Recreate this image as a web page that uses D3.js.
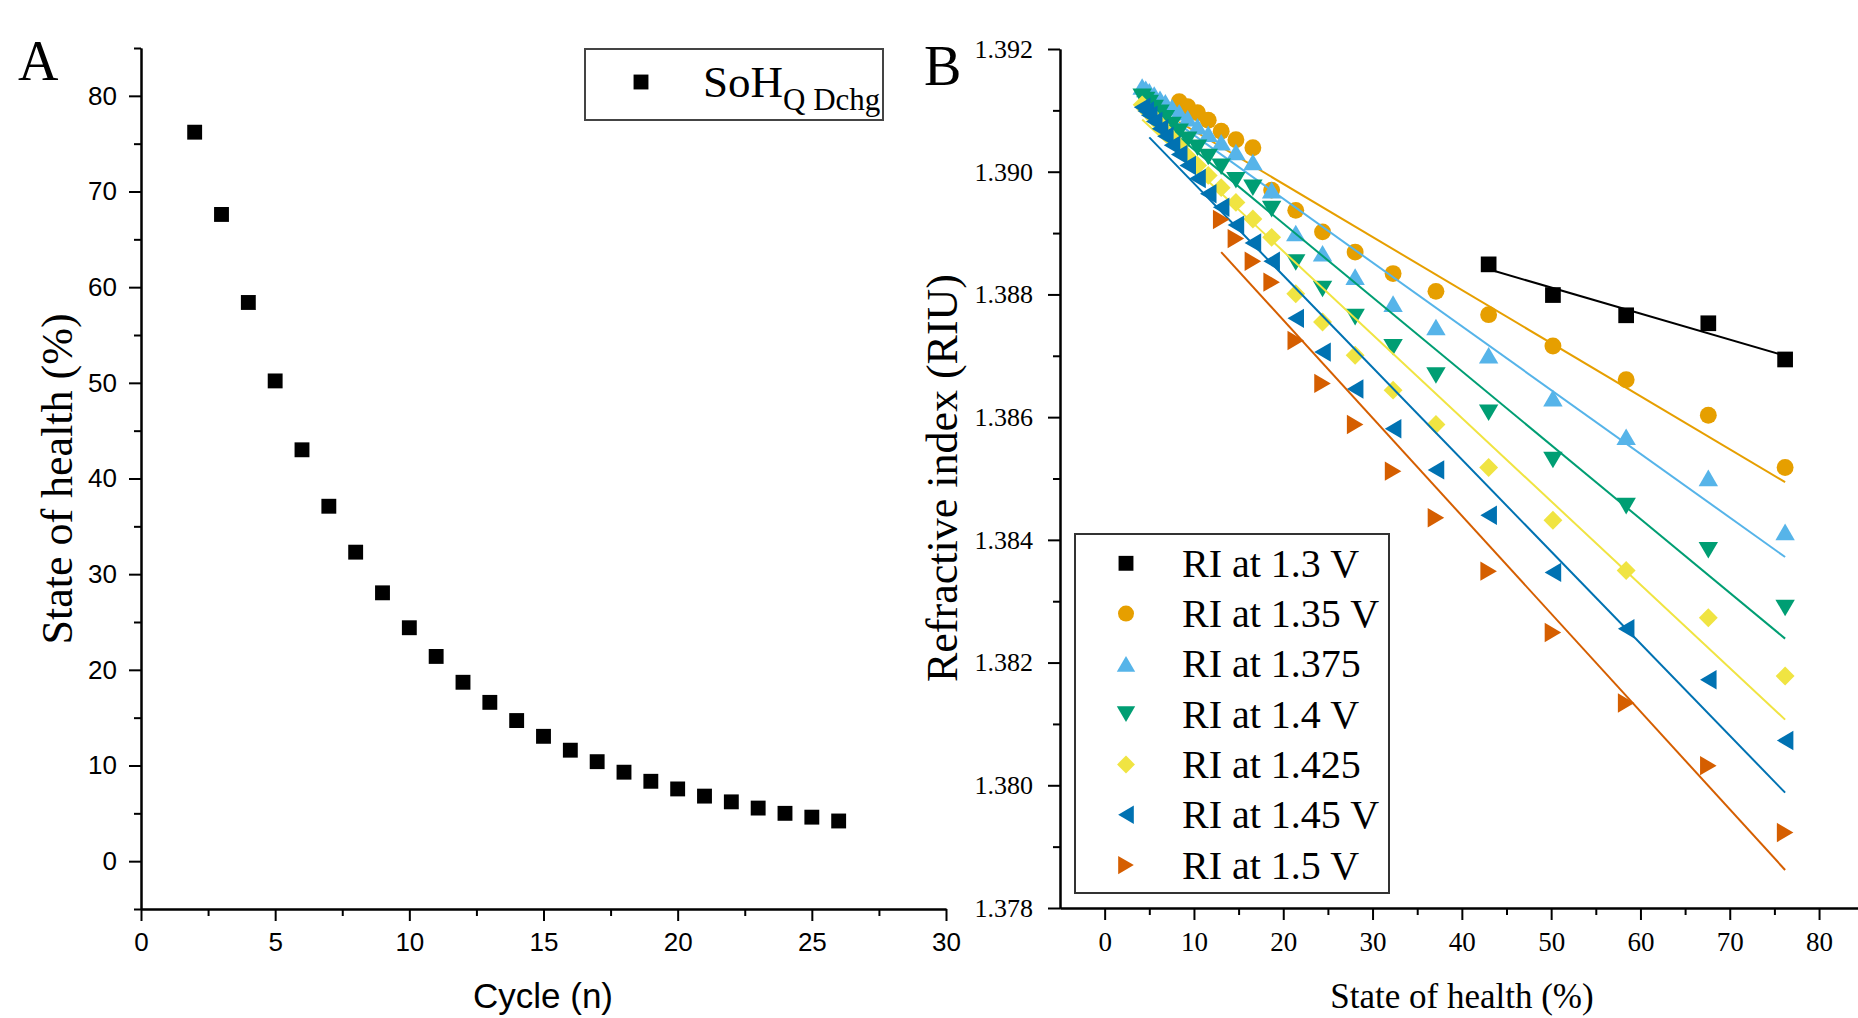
<!DOCTYPE html>
<html><head><meta charset="utf-8">
<script src="https://cdn.jsdelivr.net/npm/d3@7"></script>
<style>body{margin:0;background:#fff;} svg{display:block;}</style>
</head><body>
<svg id="c" width="1858" height="1018"></svg>
<script>
// ---------- Panel A data ----------
const cycles = [2,3,4,5,6,7,8,9,10,11,12,13,14,15,16,17,18,19,20,21,22,23,24,25,26];
const sohQ   = [76.2,67.6,58.4,50.2,43.0,37.1,32.3,28.05,24.4,21.4,18.7,16.6,14.7,13.05,11.6,10.4,9.3,8.35,7.55,6.8,6.2,5.55,5.0,4.6,4.2];
const xTicksA = [0,5,10,15,20,25,30];
const yTicksA = [0,10,20,30,40,50,60,70,80];

// ---------- Panel B data ----------
const sohB = [4.2,4.6,5.0,5.55,6.2,6.8,7.55,8.35,9.3,10.4,11.6,13.05,14.7,16.6,18.7,21.4,24.4,28.05,32.3,37.1,43.0,50.2,58.4,67.6,76.2];
const ri130  = [1.38849,1.38799,1.38766,1.38753,1.38694];
const ri135  = [1.39114,1.39106,1.39096,1.39084,1.39066,1.39052,1.39039,1.38970,1.38937,1.38902,1.38869,1.38834,1.38805,1.38767,1.38716,1.38661,1.38603,1.38518];
const ri1375 = [1.39139,1.39135,1.39131,1.39126,1.39119,1.39113,1.39105,1.39097,1.39087,1.39074,1.39062,1.39048,1.39032,1.39016,1.38970,1.38900,1.38867,1.38829,1.38785,1.38747,1.38701,1.38631,1.38568,1.38501,1.38413];
const ri140  = [1.39122,1.39117,1.39112,1.39104,1.39096,1.39087,1.39076,1.39065,1.39052,1.39039,1.39024,1.39008,1.38986,1.38974,1.38939,1.38852,1.38809,1.38763,1.38714,1.38668,1.38607,1.38530,1.38455,1.38383,1.38289];
const ri1425 = [1.39109,1.39102,1.39096,1.39087,1.39077,1.39066,1.39054,1.39041,1.39025,1.39010,1.38994,1.38974,1.38950,1.38923,1.38893,1.38801,1.38755,1.38701,1.38644,1.38588,1.38518,1.38432,1.38350,1.38273,1.38178];
const ri145  = [1.39105,1.39099,1.39092,1.39082,1.39070,1.39058,1.39043,1.39028,1.39010,1.38989,1.38964,1.38942,1.38913,1.38884,1.38854,1.38761,1.38706,1.38646,1.38581,1.38514,1.38440,1.38347,1.38255,1.38172,1.38073];
const ri150  = [1.38922,1.38891,1.38854,1.38820,1.38725,1.38655,1.38588,1.38512,1.38436,1.38349,1.38249,1.38134,1.38032,1.37923];
const seriesNames = ["RI at 1.3 V","RI at 1.35 V","RI at 1.375","RI at 1.4 V","RI at 1.425","RI at 1.45 V","RI at 1.5 V"];
const seriesColors = ["#000000","#E69F00","#56B4E9","#009E73","#F0E442","#0072B2","#D55E00"];
const seriesShapes = ["square","circle","up","down","diamond","left","right"];
// linear fit lines: start x, start y, end x, end y
const fitX0 = [43.0, 8.35, 4.2, 4.2, 4.2, 5.0, 13.05];
const fitY0 = [1.38841,1.39081,1.39120,1.39106,1.39085,1.39056,1.38869];
const fitX1 = [76.2,76.2,76.2,76.2,76.2,76.2,76.2];
const fitY1 = [1.38700,1.38494,1.38372,1.38239,1.38107,1.37988,1.37862];
const xTicksB = [0,10,20,30,40,50,60,70,80];
const yTicksB = [1.378,1.380,1.382,1.384,1.386,1.388,1.390,1.392];

const riSeries = [ri130, ri135, ri1375, ri140, ri1425, ri145, ri150];

const svg = d3.select('#c');
const SANS = "'Liberation Sans', Arial, sans-serif";
const SERIF = "'Liberation Serif', 'Times New Roman', serif";

// ---------- symbol shapes (bbox-centred) ----------
function shapeType(name){
  return { draw(ctx, size){
    const s = Math.sqrt(size);
    const h = s/2;
    if(name==='square'){ ctx.rect(-h*0.93,-h*0.93,2*h*0.93,2*h*0.93); return; }
    if(name==='circle'){ ctx.moveTo(h,0); ctx.arc(0,0,h,0,2*Math.PI); return; }
    if(name==='diamond'){ const d=h*1.12; ctx.moveTo(0,-d); ctx.lineTo(d,0); ctx.lineTo(0,d); ctx.lineTo(-d,0); ctx.closePath(); return; }
    const w = h*1.15, t = h*0.98;
    let pts;
    if(name==='up') pts=[[0,-t],[w,t],[-w,t]];
    if(name==='down') pts=[[0,t],[w,-t],[-w,-t]];
    if(name==='left') pts=[[-t,0],[t,-w],[t,w]];
    if(name==='right') pts=[[t,0],[-t,-w],[-t,w]];
    ctx.moveTo(pts[0][0],pts[0][1]); ctx.lineTo(pts[1][0],pts[1][1]); ctx.lineTo(pts[2][0],pts[2][1]); ctx.closePath();
  }};
}
const symSizeA = 256;
const symSizeB = 285;

function styleAxis(g, font, size){
  g.selectAll('path.domain').attr('stroke','#000').attr('stroke-width',2);
  g.selectAll('.tick line').attr('stroke','#000').attr('stroke-width',2);
  g.selectAll('.tick text').attr('font-family',font).attr('font-size',size).attr('fill','#000');
}

// ================= Panel A =================
const xA = d3.scaleLinear().domain([0,30]).range([141,946]);
const yA = d3.scaleLinear().domain([-5,85]).range([909,48]);

const gxAminor = svg.append('g').attr('transform','translate(0,909)')
  .call(d3.axisBottom(xA).tickValues(d3.range(2.5,30,5)).tickSize(7).tickSizeOuter(0).tickFormat(''));
styleAxis(gxAminor, SANS, 26);
const gxA = svg.append('g').attr('transform','translate(0,909)')
  .call(d3.axisBottom(xA).tickValues(xTicksA).tickSize(12).tickPadding(12).tickSizeOuter(0));
styleAxis(gxA, SANS, 26);

const gyAminor = svg.append('g').attr('transform','translate(141,0)')
  .call(d3.axisLeft(yA).tickValues(d3.range(-5,86,10)).tickSize(7).tickSizeOuter(0).tickFormat(''));
styleAxis(gyAminor, SANS, 26);
const gyA = svg.append('g').attr('transform','translate(141,0)')
  .call(d3.axisLeft(yA).tickValues(yTicksA).tickSize(12).tickPadding(12).tickSizeOuter(0));
styleAxis(gyA, SANS, 26);

svg.append('g').selectAll('path').data(cycles).join('path')
  .attr('transform',(d,i)=>`translate(${xA(d)},${yA(sohQ[i])})`)
  .attr('d', d3.symbol().type(shapeType('square')).size(symSizeA))
  .attr('fill','#000');

svg.append('text').attr('x',18).attr('y',80).attr('font-family',SERIF).attr('font-size',56).text('A');
svg.append('text').attr('transform','translate(72,479) rotate(-90)').attr('text-anchor','middle')
  .attr('font-family',SERIF).attr('font-size',44).text('State of health (%)');
svg.append('text').attr('x',543).attr('y',1008).attr('text-anchor','middle')
  .attr('font-family',SANS).attr('font-size',35).text('Cycle (n)');

// legend A
svg.append('rect').attr('x',585).attr('y',49).attr('width',298).attr('height',71)
  .attr('fill','#fff').attr('stroke','#444').attr('stroke-width',2);
svg.append('path').attr('transform','translate(641,82)')
  .attr('d', d3.symbol().type(shapeType('square')).size(symSizeA)).attr('fill','#000');
const legA = svg.append('text').attr('x',703).attr('y',97).attr('font-family',SERIF).attr('font-size',45);
legA.append('tspan').text('SoH');
legA.append('tspan').attr('font-size',31).attr('dy',13).text('Q Dchg');

// ================= Panel B =================
const xB = d3.scaleLinear().domain([-5,85]).range([1060,1863.7]);
const yB = d3.scaleLinear().domain([1.378,1.392]).range([908,49]);

const gxBminor = svg.append('g').attr('transform','translate(0,908)')
  .call(d3.axisBottom(xB).tickValues(d3.range(5,86,10)).tickSize(7).tickSizeOuter(0).tickFormat(''));
styleAxis(gxBminor, SERIF, 27);
const gxB = svg.append('g').attr('transform','translate(0,908)')
  .call(d3.axisBottom(xB).tickValues(xTicksB).tickSize(12).tickPadding(12).tickSizeOuter(0));
styleAxis(gxB, SERIF, 27);

const gyBminor = svg.append('g').attr('transform','translate(1060,0)')
  .call(d3.axisLeft(yB).tickValues(d3.range(1.379,1.3915,0.002)).tickSize(7).tickSizeOuter(0).tickFormat(''));
styleAxis(gyBminor, SERIF, 26);
const gyB = svg.append('g').attr('transform','translate(1060,0)')
  .call(d3.axisLeft(yB).tickValues(yTicksB).tickSize(12).tickPadding(15).tickSizeOuter(0).tickFormat(d3.format('.3f')));
styleAxis(gyB, SERIF, 26);

const plotB = svg.append('g');
riSeries.forEach((vals, si) => {
  const xs = sohB.slice(sohB.length - vals.length);
  const col = seriesColors[si];
  plotB.append('line')
    .attr('x1', xB(fitX0[si])).attr('y1', yB(fitY0[si]))
    .attr('x2', xB(fitX1[si])).attr('y2', yB(fitY1[si]))
    .attr('stroke', col).attr('stroke-width', 2);
  plotB.append('g').selectAll('path').data(vals).join('path')
    .attr('transform',(d,i)=>`translate(${xB(xs[i])},${yB(d)})`)
    .attr('d', d3.symbol().type(shapeType(seriesShapes[si])).size(symSizeB))
    .attr('fill', col);
});

svg.append('text').attr('x',924).attr('y',85).attr('font-family',SERIF).attr('font-size',56).text('B');
svg.append('text').attr('transform','translate(957,478) rotate(-90)').attr('text-anchor','middle')
  .attr('font-family',SERIF).attr('font-size',44).text('Refractive index (RIU)');
svg.append('text').attr('x',1462).attr('y',1008).attr('text-anchor','middle')
  .attr('font-family',SERIF).attr('font-size',35).text('State of health (%)');

// legend B
svg.append('rect').attr('x',1075).attr('y',534).attr('width',314).attr('height',359)
  .attr('fill','#fff').attr('stroke','#333').attr('stroke-width',2);
const legB = svg.append('g').selectAll('g').data(seriesNames).join('g')
  .attr('transform',(d,i)=>`translate(0,${563.3 + i*50.3})`);
legB.append('path').attr('transform','translate(1126,0)')
  .attr('d',(d,i)=> d3.symbol().type(shapeType(seriesShapes[i])).size(symSizeA)())
  .attr('fill',(d,i)=>seriesColors[i]);
legB.append('text').attr('x',1182).attr('y',13.4).attr('font-family',SERIF).attr('font-size',40).text(d=>d);
</script>
</body></html>
